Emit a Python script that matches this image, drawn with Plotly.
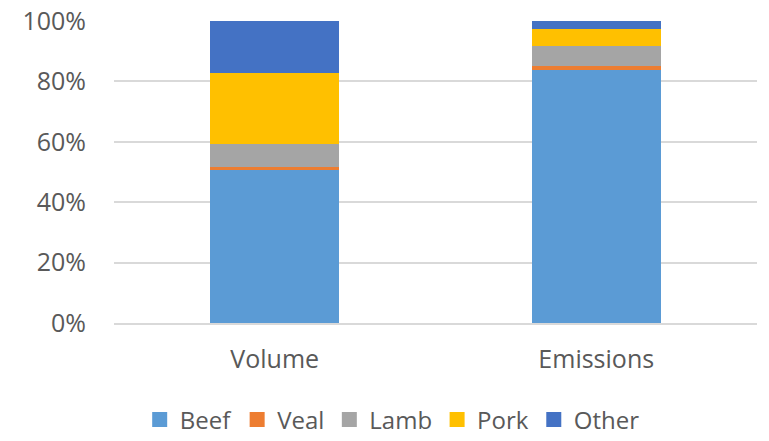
import plotly.graph_objects as go

categories = ["Volume", "Emissions"]
series_names = ["Beef", "Veal", "Lamb", "Pork", "Other"]
beef = [50.5, 83.9]
veal = [1.0, 1.3]
lamb = [7.7, 6.6]
pork = [23.5, 5.4]
other = [17.3, 2.8]
colors = ["#5B9BD5", "#ED7D31", "#A5A5A5", "#FFC000", "#4472C4"]

fig = go.Figure()
for name, vals, col in zip(series_names, [beef, veal, lamb, pork, other], colors):
    fig.add_trace(go.Bar(name=name, x=categories, y=vals, marker_color=col,
                         marker_line_width=0, width=0.4, showlegend=False,
                         legendgroup=name))
# legend entries with larger square swatches
for name, col in zip(series_names, colors):
    fig.add_trace(go.Scatter(name=name, x=[None], y=[None], mode="markers",
                             marker=dict(symbol="square", size=15, color=col),
                             legendgroup=name, showlegend=True))

font = dict(family="Open Sans, Liberation Sans, sans-serif", color="#595959", size=25)
fig.update_layout(
    barmode="stack",
    width=769, height=441,
    margin=dict(l=114, r=12, t=21, b=118),
    paper_bgcolor="white", plot_bgcolor="white",
    font=font,
    xaxis=dict(showline=True, linecolor="#d9d9d9", linewidth=1.5, ticks="",
               tickfont=dict(size=25), ticklabelstandoff=13, automargin=False),
    yaxis=dict(range=[0, 100], tickvals=[0, 20, 40, 60, 80, 100],
               ticktext=["0%", "20%", "40%", "60%", "80%", "100%"],
               gridcolor="#d9d9d9", gridwidth=1.5, zeroline=False,
               tickfont=dict(size=25), ticklabelstandoff=27, automargin=False),
    legend=dict(orientation="h", xref="container", x=0.51, xanchor="center",
                yref="container", y=0.048, yanchor="middle",
                font=dict(size=24), traceorder="normal", itemwidth=30),
    showlegend=True,
)
fig.write_html("out.html")
